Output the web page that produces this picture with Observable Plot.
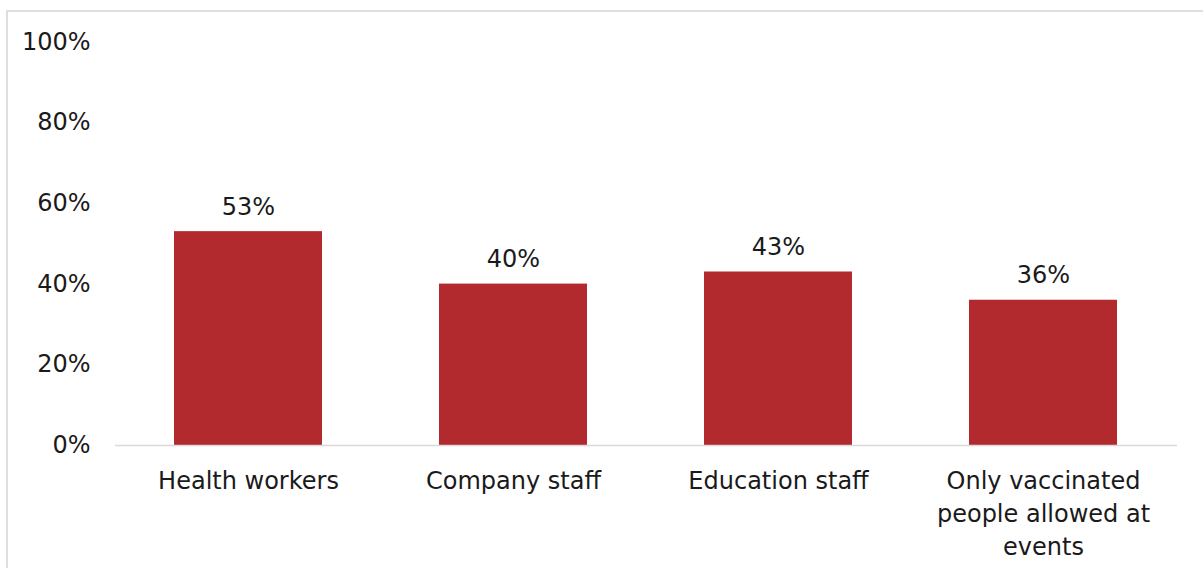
<!DOCTYPE html>
<html>
<head>
<meta charset="utf-8">
<script src="https://cdn.jsdelivr.net/npm/d3@7"></script>
<script src="https://cdn.jsdelivr.net/npm/@observablehq/plot@0.6"></script>
<style>
  html, body { margin: 0; padding: 0; background: #fff; }
  #wrap { position: relative; width: 1203px; height: 568px; overflow: hidden; }
  #border { position: absolute; left: 6px; top: 10px; width: 1300px; height: 700px;
            border-left: 2px solid #dedede; border-top: 2px solid #dedede; pointer-events: none; }
  #chart { position: absolute; left: 0; top: 0; }
</style>
</head>
<body>
<div id="wrap"><div id="chart"></div><div id="border"></div></div>
<script>
const categories = ["Health workers", "Company staff", "Education staff", "Only vaccinated people allowed at events"];
const tickLabels = ["Health workers", "Company staff", "Education staff", "Only vaccinated\npeople allowed at\nevents"];
const values = [0.53, 0.40, 0.43, 0.36];
const yTicks = [0, 0.2, 0.4, 0.6, 0.8, 1.0];

const data = categories.map((c, i) => ({category: c, value: values[i]}));
const labelOf = new Map(categories.map((c, i) => [c, tickLabels[i]]));
const pct = d3.format(".0%");

const chart = Plot.plot({
  width: 1203,
  height: 568,
  marginLeft: 115,
  marginRight: 26,
  marginTop: 41.5,
  marginBottom: 123,
  style: {fontFamily: "DejaVu Sans", fontSize: "24px", color: "#1a1a1a", background: "transparent"},
  x: {domain: categories, paddingInner: 0.44, paddingOuter: 0.22, label: null},
  y: {domain: [0, 1], label: null},
  marks: [
    Plot.barY(data, {x: "category", y: "value", fill: "#b2292e"}),
    Plot.ruleY([0], {stroke: "#d9d9d9", strokeWidth: 1.5}),
    Plot.axisY({ticks: yTicks, tickFormat: pct, tickSize: 0, tickPadding: 25, label: null,
                fontSize: 24, fill: "#1a1a1a"}),
    Plot.axisX({tickSize: 0, tickPadding: 20, label: null, tickFormat: d => labelOf.get(d),
                lineHeight: 1.37, fontSize: 24, fill: "#1a1a1a"}),
    Plot.text(data, {x: "category", y: "value", text: d => pct(d.value), lineAnchor: "bottom",
                     dy: -17, fontSize: 24, fill: "#1a1a1a"})
  ]
});
document.getElementById("chart").appendChild(chart);
</script>
</body>
</html>
